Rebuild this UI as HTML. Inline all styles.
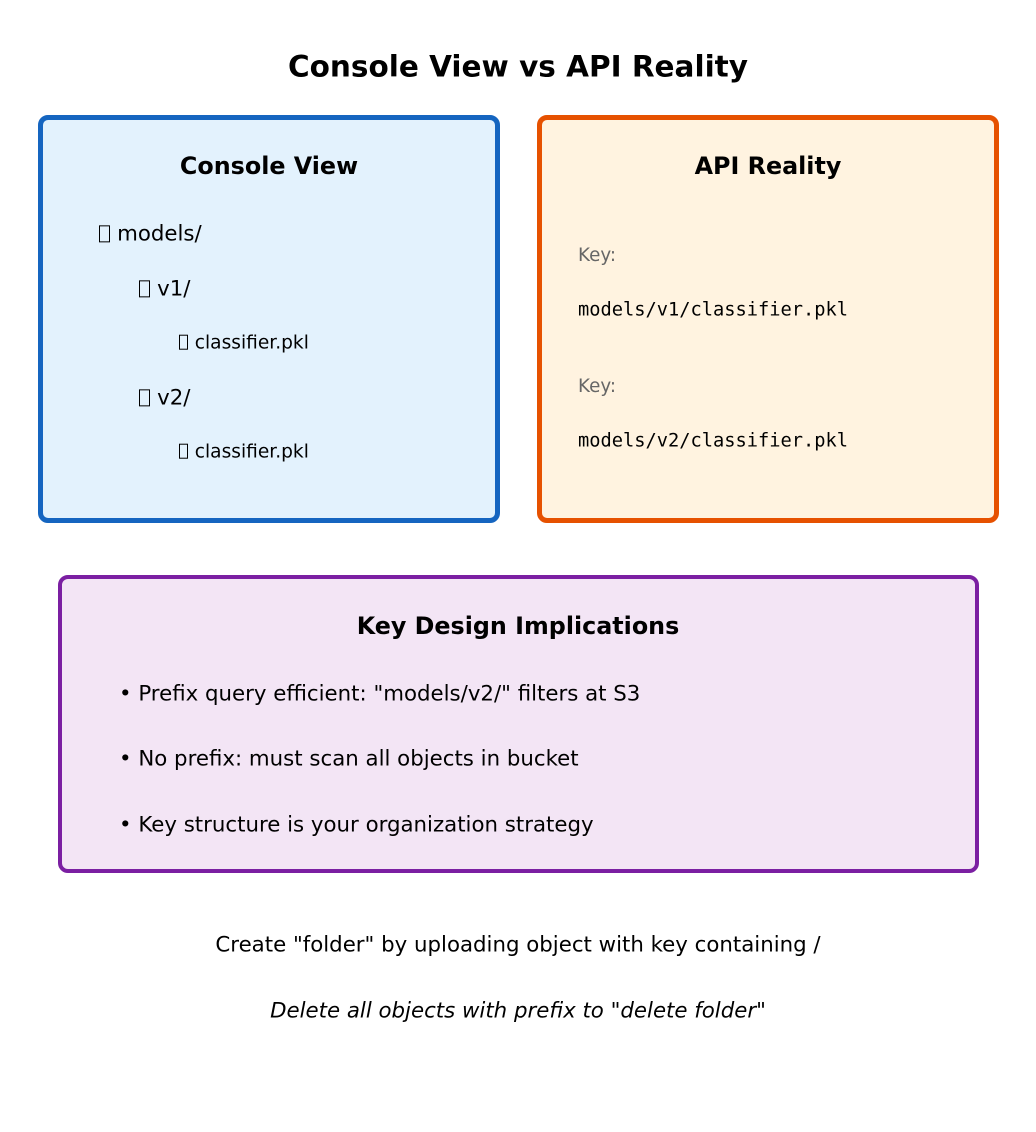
<!DOCTYPE html>
<html><head><meta charset="utf-8"><style>
body{margin:0;width:1036px;height:1132px;background:#fff;position:relative;font-family:"DejaVu Sans","Liberation Sans",sans-serif;overflow:hidden}
.t{position:absolute;white-space:nowrap;transform:translateY(-50%);line-height:1;margin-top:1.5px}
.c{transform:translate(-50%,-50%)}
.box{position:absolute;box-sizing:border-box;border-radius:10px}
.ic{display:inline-block;width:0.5em;height:0.8em;border:1.3px solid #000;box-sizing:border-box;vertical-align:-0.1em;margin-right:0.35em}
.m{font-family:"DejaVu Sans Mono","Liberation Mono",monospace;font-size:18.7px}
.k{font-size:18.3px;color:#666}
</style></head><body>
<div class="t c" style="left:518px;top:65px;font-size:29.5px;font-weight:bold">Console View vs API Reality</div>

<div class="box" style="left:38px;top:115px;width:462px;height:408px;background:#e3f2fd;border:5px solid #1565c0"></div>
<div class="t c" style="left:269px;top:165px;font-size:23.8px;font-weight:bold">Console View</div>
<div class="t" style="left:99px;top:232px;font-size:21.3px"><span class="ic"></span>models/</div>
<div class="t" style="left:139px;top:287px;font-size:21.3px"><span class="ic"></span>v1/</div>
<div class="t" style="left:179px;top:342px;font-size:18.6px"><span class="ic"></span>classifier.pkl</div>
<div class="t" style="left:139px;top:396px;font-size:21.3px"><span class="ic"></span>v2/</div>
<div class="t" style="left:179px;top:451px;font-size:18.6px"><span class="ic"></span>classifier.pkl</div>

<div class="box" style="left:537px;top:115px;width:462px;height:408px;background:#fff3e0;border:5px solid #e65100"></div>
<div class="t c" style="left:768px;top:165px;font-size:23.8px;font-weight:bold">API Reality</div>
<div class="t k" style="left:578px;top:254px">Key:</div>
<div class="t m" style="left:578px;top:309px">models/v1/classifier.pkl</div>
<div class="t k" style="left:578px;top:385px">Key:</div>
<div class="t m" style="left:578px;top:440px">models/v2/classifier.pkl</div>

<div class="box" style="left:58px;top:575px;width:921px;height:298px;background:#f3e5f5;border:4px solid #7b1fa2"></div>
<div class="t c" style="left:518px;top:625px;font-size:23.8px;font-weight:bold">Key Design Implications</div>
<div class="t" style="left:119px;top:692px;font-size:21.3px">• Prefix query efficient: "models/v2/" filters at S3</div>
<div class="t" style="left:119px;top:757px;font-size:21.3px">• No prefix: must scan all objects in bucket</div>
<div class="t" style="left:119px;top:823px;font-size:21.3px">• Key structure is your organization strategy</div>

<div class="t c" style="left:518px;top:943px;font-size:21.3px">Create "folder" by uploading object with key containing /</div>
<div class="t c" style="left:518px;top:1009px;font-size:21.3px;font-style:italic">Delete all objects with prefix to "delete folder"</div>
</body></html>
